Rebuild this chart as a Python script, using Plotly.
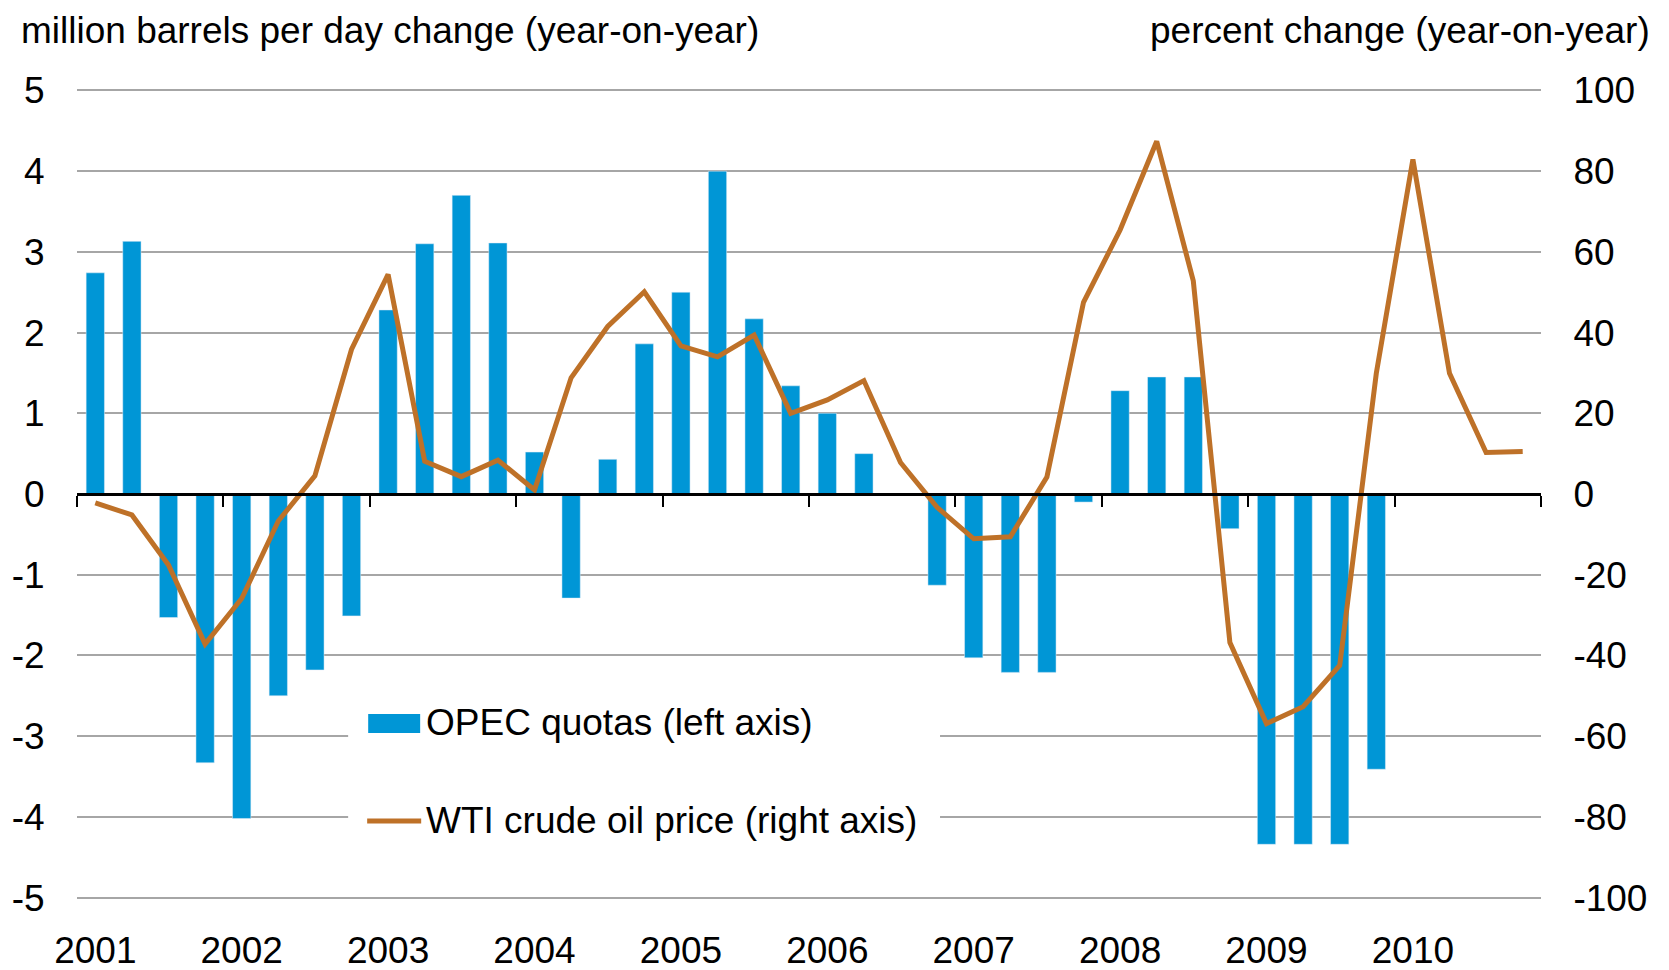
import plotly.graph_objects as go

# quarterly data, 2001 Q1 .. 2010 Q4
years = ["2001", "2002", "2003", "2004", "2005", "2006", "2007", "2008", "2009", "2010"]
quarter_labels = [f"{y} Q{q}" for y in years for q in range(1, 5)]

# OPEC quota change, million barrels per day (year-on-year)
opec_quotas = [
    2.74, 3.13, -1.53, -3.33,
    -4.02, -2.50, -2.18, -1.51,
    2.28, 3.10, 3.70, 3.11,
    0.52, -1.29, 0.43, 1.86,
    2.50, 4.00, 2.17, 1.34,
    1.00, 0.50, 0.00, -1.13,
    -2.03, -2.21, -2.21, -0.10,
    1.28, 1.45, 1.45, -0.43,
    -4.34, -4.34, -4.34, -3.41,
    None, None, None, None,
]

# WTI crude oil price, percent change (year-on-year)
wti_change = [
    -2.2, -5.2, -17.6, -37.2,
    -25.9, -6.7, 4.5, 35.8,
    54.4, 8.1, 4.3, 8.4,
    1.0, 28.8, 41.5, 50.1,
    36.7, 34.0, 39.4, 20.0,
    23.3, 28.1, 7.8, -3.3,
    -11.1, -10.6, 4.2, 47.5,
    65.4, 87.4, 52.8, -36.8,
    -56.9, -52.7, -42.5, 29.9,
    82.9, 29.9, 10.3, 10.5,
]

left_ticks = [5, 4, 3, 2, 1, 0, -1, -2, -3, -4, -5]
right_ticks = [100, 80, 60, 40, 20, 0, -20, -40, -60, -80, -100]

BAR_COLOR = "#0096D6"
LINE_COLOR = "#BE7128"
GRID_COLOR = "#A6A6A6"
FONT = dict(family="Liberation Sans, Arial, sans-serif", size=37, color="black")

x_pos = list(range(len(quarter_labels)))
n = len(x_pos)

fig = go.Figure()
fig.add_trace(go.Bar(
    x=x_pos, y=opec_quotas,
    name="OPEC quotas (left axis)",
    marker_color=BAR_COLOR,
    customdata=quarter_labels,
    hovertemplate="%{customdata}: %{y}<extra></extra>",
))
fig.add_trace(go.Scatter(
    x=x_pos, y=wti_change,
    name="WTI crude oil price (right axis)",
    mode="lines",
    line=dict(color=LINE_COLOR, width=5),
    xaxis="x2", yaxis="y2",
    customdata=quarter_labels,
    hovertemplate="%{customdata}: %{y}%<extra></extra>",
))

# year labels under the Q1 bars, boundary ticks on the zero line
q1_pos = x_pos[::4]
boundaries = [p - 0.5 for p in q1_pos] + [n - 0.5]

# range padded a hair so the +-5 gridlines are not clipped at the edges
pad = 1.006

# page body has an 8px margin, so the figure is 8px smaller than the window
fig.update_layout(
    width=1661, height=962,
    margin=dict(l=69, r=128, t=80, b=70),
    paper_bgcolor="white", plot_bgcolor="white",
    font=FONT,
    showlegend=False,
    bargap=0.5,
    xaxis=dict(
        range=[-0.5, n - 0.5], automargin=False,
        tickvals=q1_pos, ticktext=years,
        ticks="outside", ticklen=18, tickcolor="rgba(0,0,0,0)",
        showgrid=False, zeroline=False, showline=False,
    ),
    xaxis2=dict(
        range=[-0.5, n - 0.5], automargin=False,
        overlaying="x", anchor="free", position=0.5,
        tickvals=boundaries, showticklabels=False,
        ticks="outside", ticklen=11, tickwidth=2, tickcolor="black",
        showline=True, linecolor="black", linewidth=2.5,
        showgrid=False, zeroline=False,
    ),
    yaxis=dict(
        range=[-5 * pad, 5 * pad], automargin=False,
        tickvals=left_ticks, ticktext=[str(v) for v in left_ticks],
        ticks="outside", ticklen=24, tickcolor="rgba(0,0,0,0)",
        showgrid=True, gridcolor=GRID_COLOR, gridwidth=1.5,
        zeroline=False, showline=False,
    ),
    yaxis2=dict(
        range=[-100 * pad, 100 * pad], overlaying="y", side="right", automargin=False,
        tickvals=right_ticks, ticktext=[str(v) for v in right_ticks],
        ticks="outside", ticklen=24, tickcolor="rgba(0,0,0,0)",
        showgrid=False, zeroline=False, showline=False,
    ),
)

# axis titles across the top
fig.add_annotation(
    text="million barrels per day change (year-on-year)",
    xref="paper", yref="paper", x=-0.0394, y=1.0713,
    xanchor="left", yanchor="middle", showarrow=False, font=FONT,
)
fig.add_annotation(
    text="percent change (year-on-year)",
    xref="paper", yref="paper", x=1.0756, y=1.0713,
    xanchor="right", yanchor="middle", showarrow=False, font=FONT,
)

# hand-built legend on a white patch over the gridlines
fig.add_shape(type="rect", xref="paper", yref="paper",
              x0=0.1852, x1=0.5895, y0=0.0371, y1=0.271,
              fillcolor="white", line_width=0, layer="above")
fig.add_shape(type="rect", xref="paper", yref="paper",
              x0=0.1989, x1=0.2344, y0=0.2057, y1=0.2291,
              fillcolor=BAR_COLOR, line_width=0, layer="above")
fig.add_shape(type="line", xref="paper", yref="paper",
              x0=0.1982, x1=0.2351, y0=0.0974, y1=0.0974,
              line=dict(color=LINE_COLOR, width=5), layer="above")
fig.add_annotation(text="OPEC quotas (left axis)", xref="paper", yref="paper",
                   x=0.2368, y=0.218, xanchor="left", yanchor="middle",
                   showarrow=False, font=FONT)
fig.add_annotation(text="WTI crude oil price (right axis)", xref="paper", yref="paper",
                   x=0.2368, y=0.0974, xanchor="left", yanchor="middle",
                   showarrow=False, font=FONT)

fig.write_html("out.html")
